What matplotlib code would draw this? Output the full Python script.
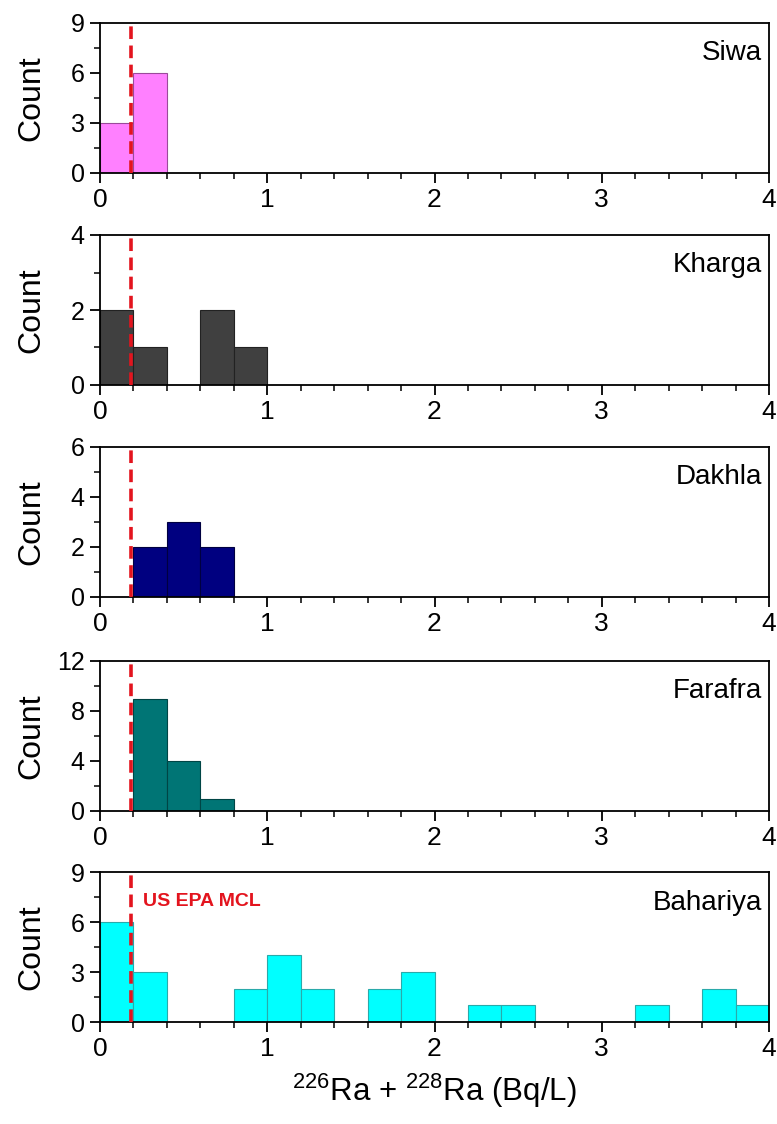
import matplotlib
matplotlib.use("Agg")
import matplotlib.pyplot as plt
from matplotlib.ticker import MultipleLocator

plt.rcParams['font.family'] = ['Liberation Sans', 'DejaVu Sans']
plt.rcParams['mathtext.fontset'] = 'custom'
plt.rcParams['mathtext.rm'] = 'Liberation Sans'
plt.rcParams['mathtext.it'] = 'Liberation Sans:italic'
plt.rcParams['mathtext.bf'] = 'Liberation Sans:bold'

# ---- data ----
regions = ["Siwa", "Kharga", "Dakhla", "Farafra", "Bahariya"]
bin_width = 0.2
siwa_lefts = [0.0, 0.2]
siwa_counts = [3, 6]
kharga_lefts = [0.0, 0.2, 0.6, 0.8]
kharga_counts = [2, 1, 2, 1]
dakhla_lefts = [0.2, 0.4, 0.6]
dakhla_counts = [2, 3, 2]
farafra_lefts = [0.2, 0.4, 0.6]
farafra_counts = [9, 4, 1]
bahariya_lefts = [0.0, 0.2, 0.8, 1.0, 1.2, 1.6, 1.8, 2.2, 2.4, 3.2, 3.6, 3.8]
bahariya_counts = [6, 3, 2, 4, 2, 2, 3, 1, 1, 1, 2, 1]
y_max = [9, 4, 6, 12, 9]
y_major = [3, 2, 2, 4, 3]
mcl_value = 0.185
x_ticks = [0, 1, 2, 3, 4]

lefts = [siwa_lefts, kharga_lefts, dakhla_lefts, farafra_lefts, bahariya_lefts]
counts = [siwa_counts, kharga_counts, dakhla_counts, farafra_counts, bahariya_counts]
colors = ["#FF80FF", "#404040", "#000080", "#007575", "#00FFFF"]
edgecolors = ["#9a4a9a", "#222222", "#000040", "#004545", "#2aaaaa"]

W, H = 777, 1124
fig = plt.figure(figsize=(W / 100, H / 100), dpi=100)

left_px, right_px = 100, 769
tops_px = [23, 235, 447, 661, 872]
panel_h = 150

for i, name in enumerate(regions):
    top = tops_px[i]
    ax = fig.add_axes([left_px / W, 1 - (top + panel_h) / H,
                       (right_px - left_px) / W, panel_h / H])
    ax.bar(lefts[i], counts[i], width=bin_width, align='edge',
           color=colors[i], edgecolor=edgecolors[i], linewidth=0.8, zorder=2)
    ax.axvline(mcl_value, color='#E3141E', linestyle=(0, (3.5, 1.8)),
               linewidth=2.6, zorder=3)
    ax.set_xlim(0, 4)
    ax.set_ylim(0, y_max[i])
    ax.set_xticks(x_ticks)
    ax.xaxis.set_minor_locator(MultipleLocator(0.2))
    ax.yaxis.set_major_locator(MultipleLocator(y_major[i]))
    ax.yaxis.set_minor_locator(MultipleLocator(y_major[i] / 2))
    ax.tick_params(which='major', direction='out', length=7, width=1.3)
    ax.tick_params(which='minor', direction='out', length=4, width=1.1)
    ax.tick_params(axis='x', which='major', labelsize=19, pad=3.5)
    ax.tick_params(axis='y', which='major', labelsize=18, pad=4)
    ax.tick_params(top=False, right=False, which='both')
    for s in ax.spines.values():
        s.set_linewidth(1.3)
    ax.set_ylabel("Count", fontsize=23)
    ax.yaxis.set_label_coords(-0.08, 0.5)
    ax.text(0.99, 0.75, name, transform=ax.transAxes, ha='right', va='baseline',
            fontsize=20)
    if i == len(regions) - 1:
        ax.text(0.064, 0.80, "US EPA MCL", transform=ax.transAxes,
                ha='left', va='center', fontsize=14, fontweight='bold',
                color='#E3141E')
        ax.set_xlabel(r"$^{226}$Ra + $^{228}$Ra (Bq/L)", fontsize=22.5, labelpad=8)

fig.savefig("out.png", dpi=100)
